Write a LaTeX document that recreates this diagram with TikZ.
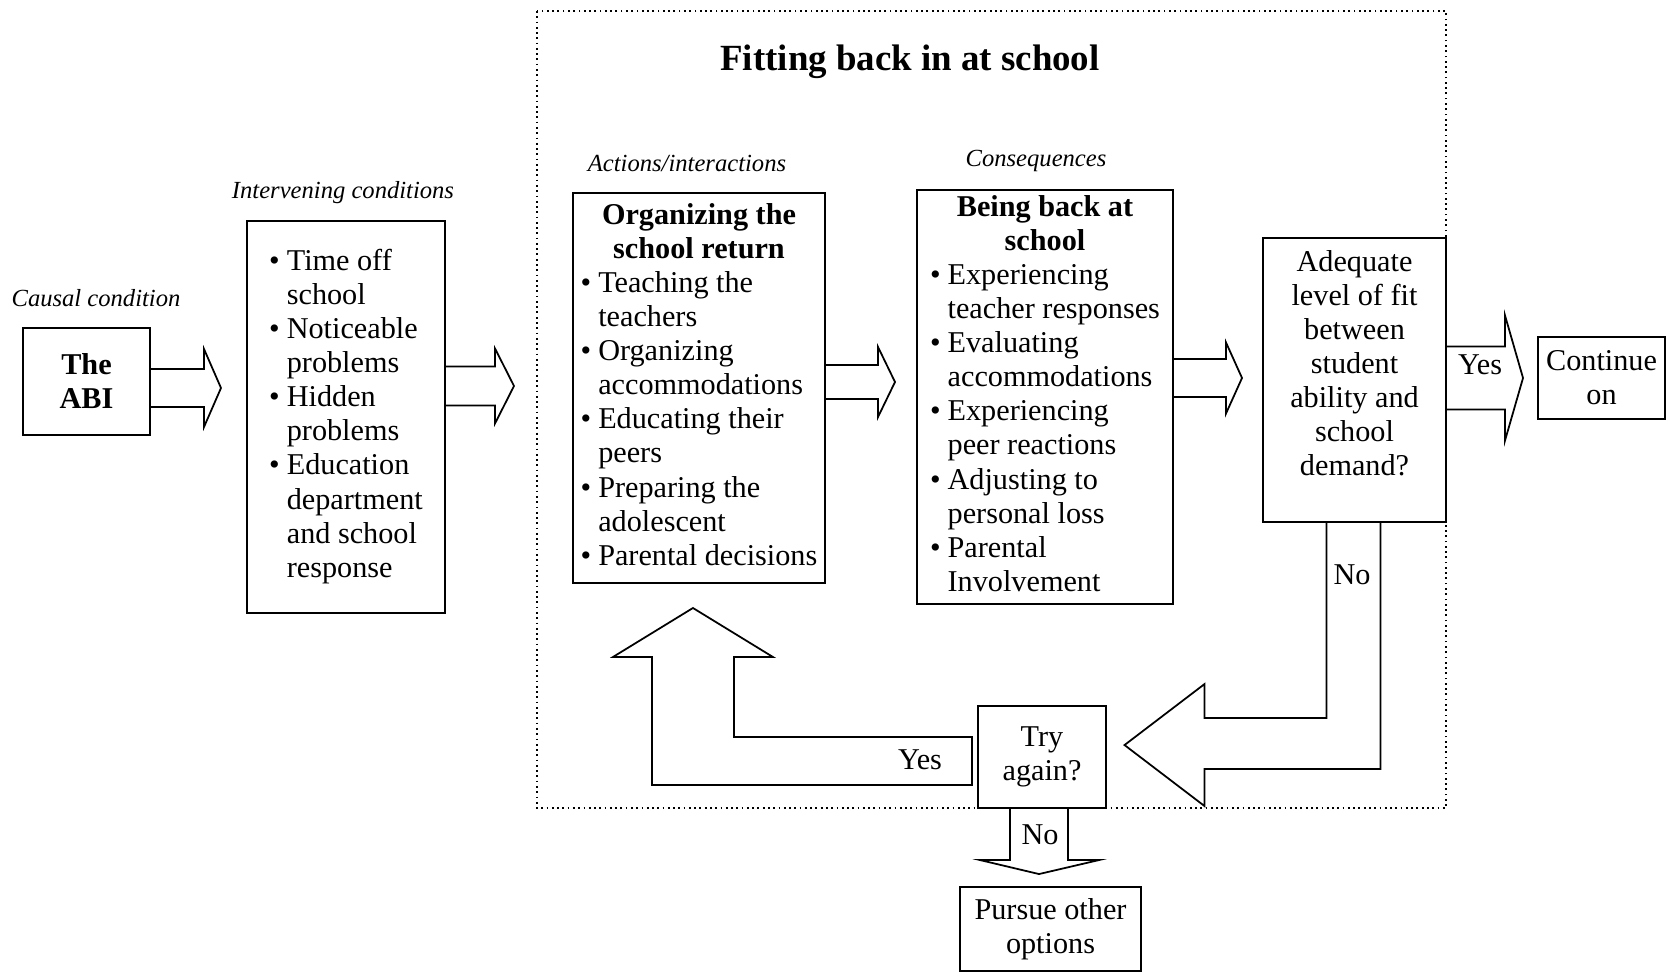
\documentclass[tikz,border=0pt]{standalone}
\usepackage{fontspec}
\setmainfont{Liberation Serif}
\usetikzlibrary{calc}

\tikzset{
  box/.style={draw, line width=0.6pt, inner sep=0pt, align=center,
    font=\fontsize{8.6}{9.7}\selectfont},
  tag/.style={font=\fontsize{7}{8}\selectfont\itshape},
  lbl/.style={font=\fontsize{8.6}{9.7}\selectfont},
  arrowline/.style={line width=0.5pt, line join=miter},
  fatarrow/.style n args={3}{to path={
    let \p1=(\tikztostart), \p2=(\tikztotarget) in
      (\x1,\y2+#1) -- (\x2-#3,\y2+#1) -- (\x2-#3,\y2+#2) -- (\x2,\y2)
      -- (\x2-#3,\y2-#2) -- (\x2-#3,\y2-#1) -- (\x1,\y2-#1)}},
}

\begin{document}
\begin{tikzpicture}[x=0.1mm, y=-0.1mm]
  % page
  \fill[white] (0,0) rectangle (1668,973);
  \useasboundingbox (0,0) rectangle (1668,973);

  % dotted frame round the school part
  \draw[densely dotted, line width=0.5pt] (537,11) rectangle (1446,808);
  \node[font=\fontsize{10.5}{12}\selectfont\bfseries] (title) at (910,62) {Fitting back in at school};

  % column headings
  \node[tag] (causal) at (96,298) {Causal condition};
  \node[tag] (interhead) at (343,193) {Intervening conditions};
  \node[tag] (acthead) at (687,163) {Actions/interactions};
  \node[tag] (conshead) at (1036,161) {Consequences};

  % boxes
  \node[box, minimum width=12.7mm, minimum height=10.7mm] (abi) at (86.5,381.5)
    {\textbf{The}\\\textbf{ABI}};
  \node[box, minimum width=19.8mm, minimum height=39.2mm] (interv) at (346,417) {%
    \begin{tabular}{@{}l@{\hspace{2pt}}l@{}}
      \textbullet & Time off\\
                  & school\\
      \textbullet & Noticeable\\
                  & problems\\
      \textbullet & Hidden\\
                  & problems\\
      \textbullet & Education\\
                  & department\\
                  & and school\\
                  & response
    \end{tabular}};
  \node[box, minimum width=25.2mm, minimum height=39mm] (organize) at (699,388) {%
    \begin{tabular}{@{}l@{\hspace{2pt}}l@{}}
      \multicolumn{2}{c}{\bfseries Organizing the}\\
      \multicolumn{2}{c}{\bfseries school return}\\
      \textbullet & Teaching the\\
                  & teachers\\
      \textbullet & Organizing\\
                  & accommodations\\
      \textbullet & Educating their\\
                  & peers\\
      \textbullet & Preparing the\\
                  & adolescent\\
      \textbullet & Parental decisions
    \end{tabular}};
  \node[box, minimum width=25.6mm, minimum height=41.4mm] (beingback) at (1045,397) {%
    \begin{tabular}{@{}l@{\hspace{2pt}}l@{}}
      \multicolumn{2}{c}{\bfseries Being back at}\\
      \multicolumn{2}{c}{\bfseries school}\\
      \textbullet & Experiencing\\
                  & teacher responses\\
      \textbullet & Evaluating\\
                  & accommodations\\
      \textbullet & Experiencing\\
                  & peer reactions\\
      \textbullet & Adjusting to\\
                  & personal loss\\
      \textbullet & Parental\\
                  & Involvement
    \end{tabular}};
  \node[box, minimum width=18.3mm, minimum height=28.4mm] (adequate) at (1354.5,380)
    {Adequate\\level of fit\\between\\student\\ability and\\school\\demand?\\ \mbox{}};
  \node[box, minimum width=12.7mm, minimum height=8.2mm] (continue) at (1601.5,378) {Continue\\on};
  \node[box, minimum width=12.8mm, minimum height=10.2mm] (tryagain) at (1042,757) {Try\\again?};
  \node[box, minimum width=18.1mm, minimum height=8.4mm] (pursue) at (1050.5,929) {Pursue other\\options};

  % block arrows along the row
  \coordinate (t1) at (221,388);
  \coordinate (t2) at (514,386);
  \coordinate (t3) at (895,382);
  \coordinate (t4) at (1242,378);
  \coordinate (t5) at (1523,378);
  \draw[arrowline] (abi.east |- t1) to[fatarrow={1.9mm}{3.9mm}{1.7mm}] (t1);
  \draw[arrowline] (interv.east |- t2) to[fatarrow={1.95mm}{3.75mm}{1.9mm}] (t2);
  \draw[arrowline] (organize.east |- t3) to[fatarrow={1.7mm}{3.5mm}{1.7mm}] (t3);
  \draw[arrowline] (beingback.east |- t4) to[fatarrow={1.9mm}{3.55mm}{1.6mm}] (t4);
  \draw[arrowline] (adequate.east |- t5) to[fatarrow={3.15mm}{6.25mm}{1.8mm}] (t5);

  % no: down and back to try again
  \draw[arrowline] (adequate.south) ++(-28,0) -- ++(0,195) -- ++(-122,0) -- ++(0,-34)
    -- ++(-80,61) -- ++(80,61) -- ++(0,-37) -- ++(176,0) -- ++(0,-246);
  % yes: back up to organizing
  \draw[arrowline] (tryagain.west) ++(-5,-20) -- ++(-238,0) -- ++(0,-80) -- ++(39,0)
    -- ++(-80,-49) -- ++(-80,49) -- ++(39,0) -- ++(0,128) -- ++(320,0) -- cycle;
  % no: down to other options
  \draw[arrowline] (tryagain.south) ++(-32,0) -- ++(0,51) -- ++(-30,0) -- ++(59,14)
    -- ++(60,-14) -- ++(-31,0) -- ++(0,-51);

  % arrow labels
  \node[lbl] (yesfit) at (1480,365) {Yes};
  \node[lbl] (nofit) at (1352,575) {No};
  \node[lbl] (yesagain) at (920,760) {Yes};
  \node[lbl] (noagain) at (1040,835) {No};
\end{tikzpicture}
\end{document}
